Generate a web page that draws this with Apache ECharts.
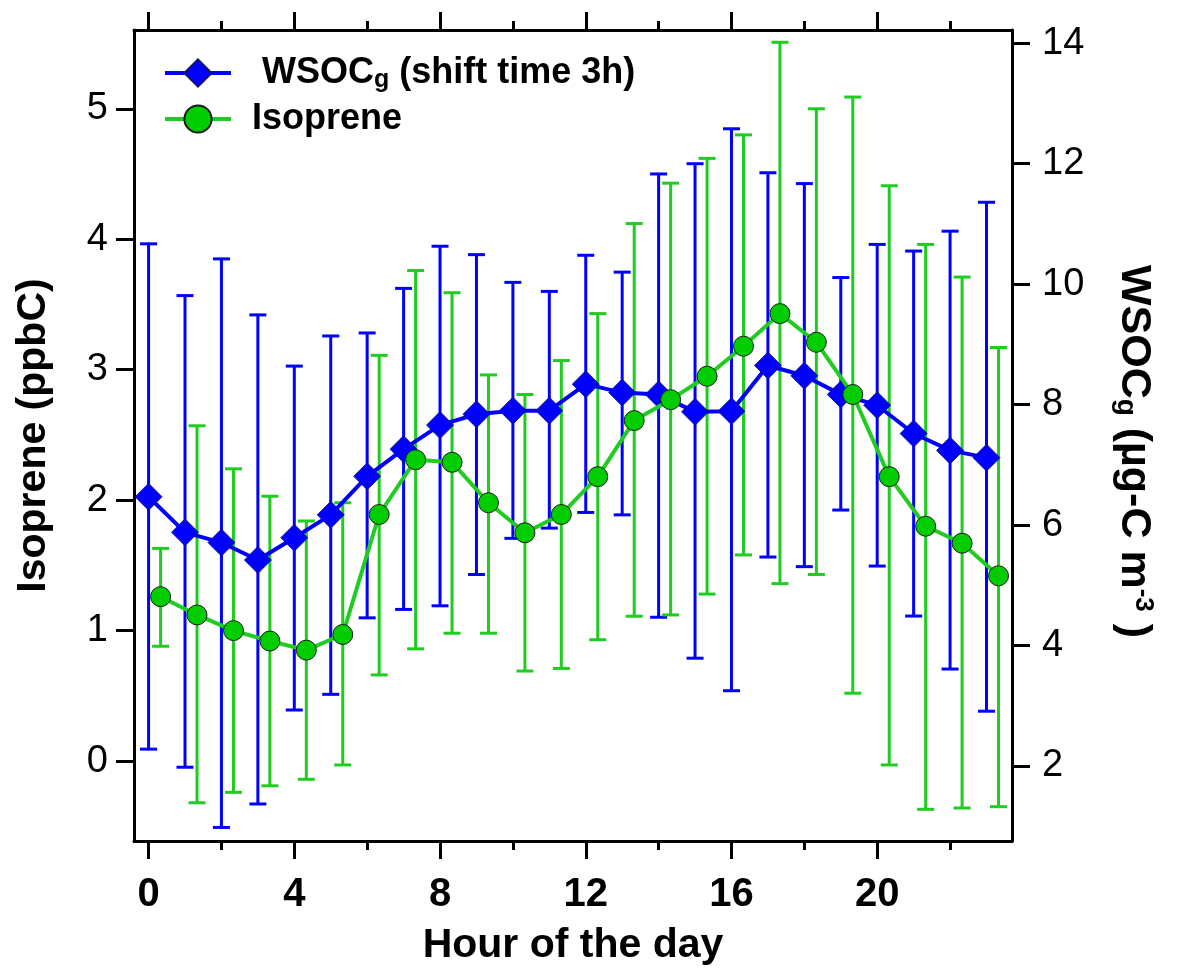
<!DOCTYPE html>
<html>
<head>
<meta charset="utf-8">
<script src="https://cdn.jsdelivr.net/npm/echarts@6/dist/echarts.min.js"></script>
<style>
  html, body { margin: 0; padding: 0; background: #fff; }
  #chart { width: 1180px; height: 970px; }
</style>
</head>
<body>
<div id="chart"></div>
<script>
// ---- data ----
const hours = [0,1,2,3,4,5,6,7,8,9,10,11,12,13,14,15,16,17,18,19,20,21,22,23];
const wsoc = [6.47,5.88,5.71,5.42,5.79,6.17,6.81,7.26,7.66,7.84,7.90,7.90,8.34,8.20,8.17,7.88,7.89,8.65,8.48,8.17,7.99,7.52,7.24,7.12];
const wsocLow = [2.28,1.98,0.98,1.37,2.93,3.19,4.46,4.60,4.66,5.18,5.78,5.95,6.21,6.17,4.47,3.79,3.25,5.47,5.31,6.25,5.32,4.49,3.61,2.91];
const wsocHigh = [10.67,9.81,10.42,9.49,8.64,9.14,9.19,9.93,10.63,10.49,10.03,9.88,10.48,10.20,11.83,12.00,12.58,11.85,11.67,10.11,10.66,10.55,10.88,11.36];

const isoHours = [0.33,1.33,2.33,3.33,4.33,5.33,6.33,7.33,8.33,9.33,10.33,11.33,12.33,13.33,14.33,15.33,16.33,17.33,18.33,19.33,20.33,21.33,22.33,23.33];
const iso = [1.26,1.12,1.00,0.92,0.85,0.97,1.89,2.31,2.29,1.98,1.75,1.89,2.18,2.61,2.77,2.95,3.18,3.43,3.21,2.81,2.18,1.80,1.67,1.42];
const isoLow = [0.88,-0.32,-0.24,-0.19,-0.14,-0.03,0.66,0.86,0.98,0.98,0.69,0.71,0.93,1.11,1.12,1.28,1.58,1.36,1.43,0.52,-0.03,-0.37,-0.36,-0.35];
const isoHigh = [1.63,2.57,2.24,2.03,1.84,1.98,3.11,3.76,3.59,2.96,2.81,3.07,3.43,4.12,4.43,4.62,4.80,5.51,5.00,5.09,4.41,3.96,3.71,3.17];

const xMajorTicks = [0,4,8,12,16,20];
const xMinorTicks = [2,6,10,14,18,22];
const leftTicks = [0,1,2,3,4,5];
const rightTicks = [2,4,6,8,10,12,14];

// ---- chart ----
const FONT = "'Liberation Sans', Arial, Helvetica, sans-serif";
const BLUE = '#0000ff';
const GREEN = '#1fcc1f';
const chart = echarts.init(document.getElementById('chart'), null, {renderer: 'canvas'});

function errorBar(color) {
  return function (params, api) {
    const x = api.value(0), lo = api.value(1), hi = api.value(2);
    const pTop = api.coord([x, hi]);
    const pBot = api.coord([x, lo]);
    const hw = 8.5;
    const st = {stroke: color, lineWidth: 3};
    return {
      type: 'group',
      children: [
        {type: 'line', shape: {x1: pTop[0], y1: pTop[1], x2: pBot[0], y2: pBot[1]}, style: st},
        {type: 'line', shape: {x1: pTop[0] - hw, y1: pTop[1], x2: pTop[0] + hw, y2: pTop[1]}, style: st},
        {type: 'line', shape: {x1: pBot[0] - hw, y1: pBot[1], x2: pBot[0] + hw, y2: pBot[1]}, style: st}
      ]
    };
  };
}

const xBase = {type: 'value', min: -0.4, max: 23.7, splitLine: {show: false}};
const tickStyle = {color: '#000', width: 3};

const option = {
  backgroundColor: '#fff',
  animation: false,
  textStyle: {fontFamily: FONT},
  grid: {left: 134, right: 168, top: 30, bottom: 129, containLabel: false, outerBoundsMode: 'none'},
  legend: {
    orient: 'vertical',
    left: 163,
    top: 55,
    padding: 0,
    itemWidth: 66,
    itemHeight: 34,
    itemGap: 8,
    selectedMode: false,
    lineStyle: {width: 4},
    data: [
      {name: 'WSOC', textStyle: {padding: [0, 0, 0, 26]}},
      {name: 'Isoprene', textStyle: {padding: [0, 0, 0, 16]}}
    ],
    formatter: function (name) {
      return name === 'WSOC' ? '{m|WSOC}{sub|g}{m| (shift time 3h)}' : '{m|Isoprene}';
    },
    textStyle: {
      fontFamily: FONT, fontSize: 36, fontWeight: 'bold', color: '#000',
      rich: {
        m: {fontFamily: FONT, fontSize: 36, fontWeight: 'bold', color: '#000', lineHeight: 40, verticalAlign: 'middle'},
        sub: {fontFamily: FONT, fontSize: 25, fontWeight: 'bold', color: '#000', lineHeight: 22, verticalAlign: 'bottom'}
      }
    }
  },
  xAxis: [
    Object.assign({}, xBase, {
      position: 'bottom',
      axisLine: {show: true, onZero: false, lineStyle: tickStyle},
      axisTick: {show: true, customValues: xMinorTicks, length: 9, lineStyle: tickStyle},
      axisLabel: {show: true, customValues: xMajorTicks, margin: 34, fontFamily: FONT, fontSize: 40, fontWeight: 'bold', color: '#000'},
      name: 'Hour of the day',
      nameLocation: 'middle',
      nameGap: 84,
      nameTextStyle: {fontFamily: FONT, fontSize: 41, fontWeight: 'bold', color: '#000'}
    }),
    Object.assign({}, xBase, {
      position: 'bottom',
      axisLine: {show: false, onZero: false},
      axisTick: {show: true, customValues: xMajorTicks, length: 18, lineStyle: tickStyle},
      axisLabel: {show: false}
    }),
    Object.assign({}, xBase, {
      position: 'top',
      axisLine: {show: true, onZero: false, lineStyle: tickStyle},
      axisTick: {show: true, customValues: xMajorTicks, length: 18, lineStyle: tickStyle},
      axisLabel: {show: false}
    }),
    Object.assign({}, xBase, {
      position: 'top',
      axisLine: {show: false, onZero: false},
      axisTick: {show: true, customValues: xMinorTicks, length: 9, lineStyle: tickStyle},
      axisLabel: {show: false}
    })
  ],
  yAxis: [
    {
      type: 'value', position: 'left', min: -0.613, max: 5.604,
      splitLine: {show: false},
      axisLine: {show: true, onZero: false, lineStyle: tickStyle},
      axisTick: {show: true, customValues: leftTicks, length: 18, lineStyle: tickStyle},
      axisLabel: {show: true, customValues: leftTicks, margin: 26, fontFamily: FONT, fontSize: 38, color: '#000'},
      name: 'Isoprene (ppbC)',
      nameLocation: 'middle',
      nameGap: 80,
      nameTextStyle: {fontFamily: FONT, fontSize: 41, fontWeight: 'bold', color: '#000'}
    },
    {
      type: 'value', position: 'right', min: 0.755, max: 14.22,
      splitLine: {show: false},
      axisLine: {show: true, onZero: false, lineStyle: tickStyle},
      axisTick: {show: true, customValues: rightTicks, length: 18, lineStyle: tickStyle},
      axisLabel: {show: true, customValues: rightTicks, margin: 30, fontFamily: FONT, fontSize: 38, color: '#000'},
      name: 'WSOC{sub|g} (µg-C m{sup|-3} )',
      nameLocation: 'middle',
      nameRotate: -90,
      nameGap: 100,
      nameTextStyle: {
        fontFamily: FONT, fontSize: 43, fontWeight: 'bold', color: '#000', lineHeight: 44,
        padding: [0, 0, 0, 32],
        rich: {
          sub: {fontFamily: FONT, fontSize: 28, fontWeight: 'bold', color: '#000', lineHeight: 20, verticalAlign: 'bottom'},
          sup: {fontFamily: FONT, fontSize: 26, fontWeight: 'bold', color: '#000', lineHeight: 14, verticalAlign: 'top'}
        }
      }
    }
  ],
  series: [
    {
      name: 'wsocErr', type: 'custom', xAxisIndex: 0, yAxisIndex: 1, z: 1,
      renderItem: errorBar(BLUE),
      encode: {x: 0, y: [1, 2]},
      data: hours.map((h, i) => [h, wsocLow[i], wsocHigh[i]])
    },
    {
      name: 'isoErr', type: 'custom', xAxisIndex: 0, yAxisIndex: 0, z: 1,
      renderItem: errorBar(GREEN),
      encode: {x: 0, y: [1, 2]},
      data: isoHours.map((h, i) => [h, isoLow[i], isoHigh[i]])
    },
    {
      name: 'WSOC', type: 'line', xAxisIndex: 0, yAxisIndex: 1, z: 3,
      symbol: 'diamond', symbolSize: 27,
      lineStyle: {color: BLUE, width: 4},
      itemStyle: {color: BLUE, borderColor: '#10106a', borderWidth: 0.8},
      data: hours.map((h, i) => [h, wsoc[i]])
    },
    {
      name: 'Isoprene', type: 'line', xAxisIndex: 0, yAxisIndex: 0, z: 4,
      symbol: 'circle', symbolSize: 20,
      lineStyle: {color: GREEN, width: 4},
      itemStyle: {color: '#00cc00', borderColor: '#1a1a1a', borderWidth: 1},
      data: isoHours.map((h, i) => [h, iso[i]])
    }
  ]
};
chart.setOption(option);
</script>
</body>
</html>
